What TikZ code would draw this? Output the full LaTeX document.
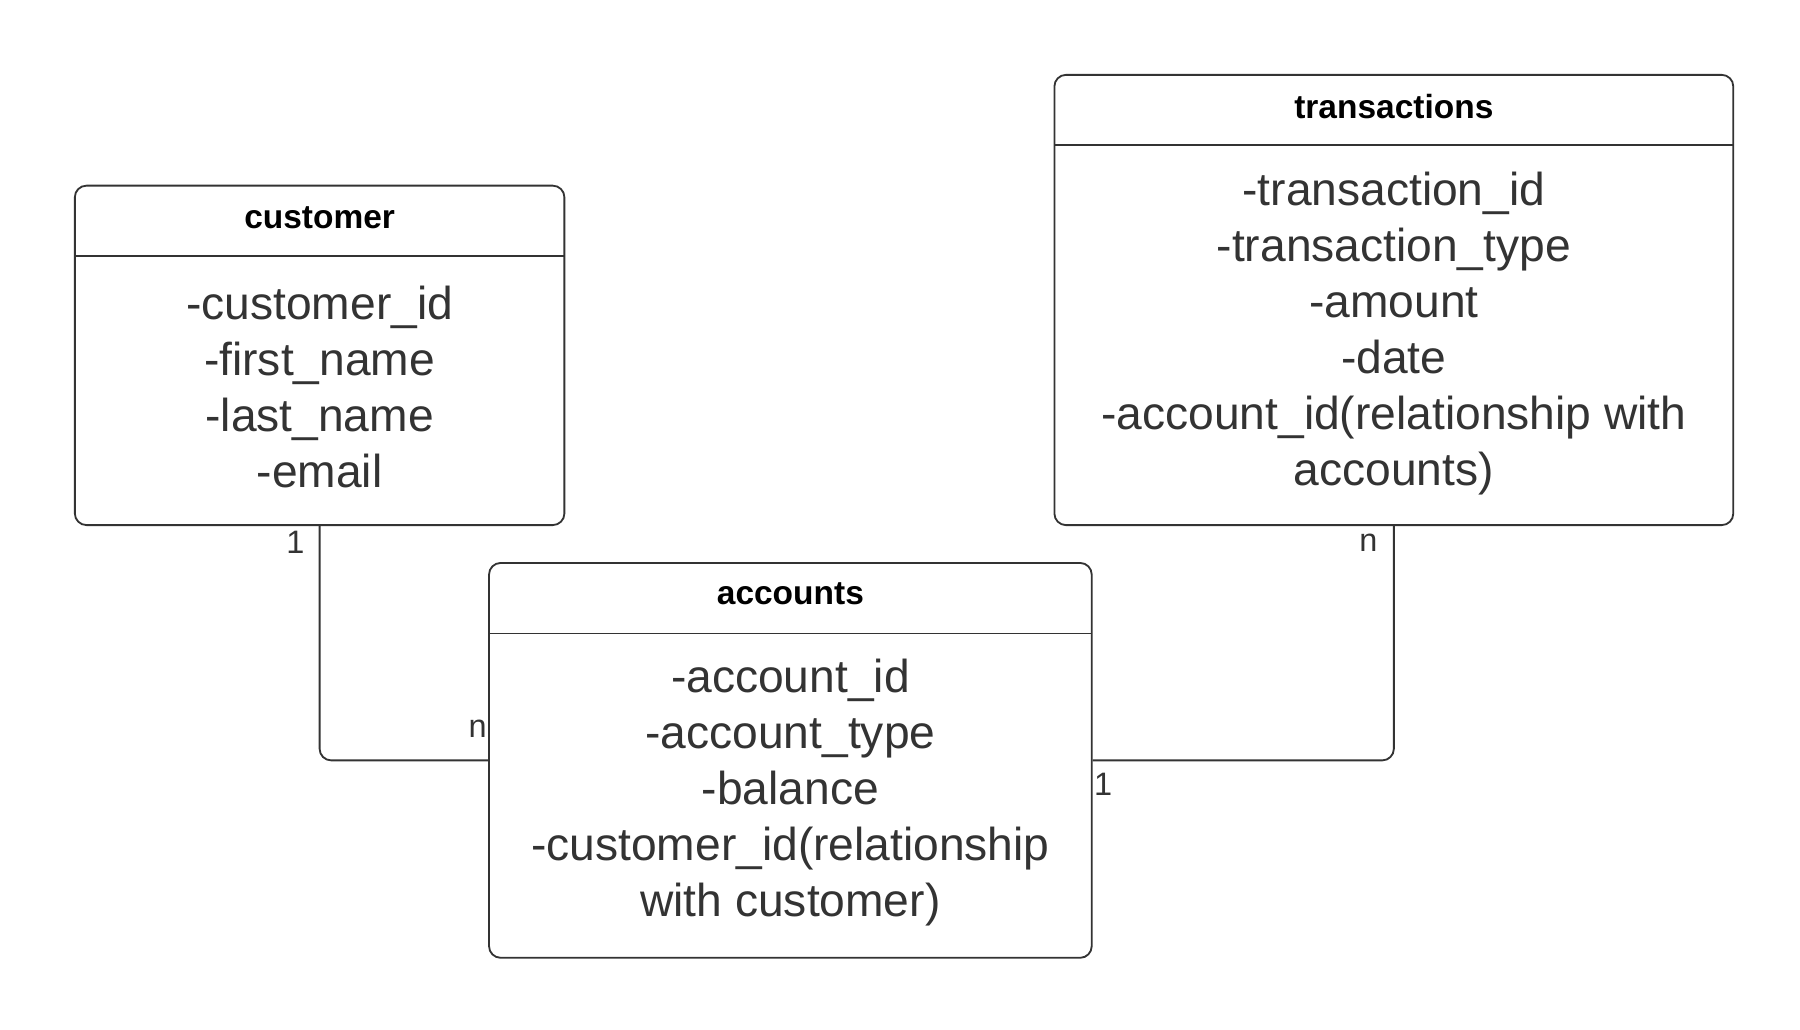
\documentclass[tikz,border=0pt]{standalone}
\usepackage{fontspec}
\setmainfont{Liberation Sans}
\definecolor{ln}{HTML}{333333}
\definecolor{tx}{HTML}{333333}
\tikzset{
  tbl/.style={draw=ln, line width=0.45pt, rounded corners=0.1cm, inner sep=0pt, fill=white},
  ttl/.style={font=\fontsize{8.25}{10}\selectfont\bfseries, text=black, inner sep=0pt},
  body/.style={font=\fontsize{11.38}{13.8}\selectfont, text=tx, align=center, inner sep=0pt},
  card/.style={font=\fontsize{8}{9.6}\selectfont, text=tx, inner sep=0pt},
  conn/.style={draw=ln, line width=0.45pt, rounded corners=0.1cm},
  hdr/.style={draw=ln, line width=0.45pt}
}
\begin{document}
\begin{tikzpicture}[x=0.01cm, y=-0.01cm]
\useasboundingbox (0,0) rectangle (1560,892);
% tables
\node[tbl, minimum width=4.24cm, minimum height=2.94cm] (cust) at (277,308) {};
\node[tbl, minimum width=5.88cm, minimum height=3.90cm] (trans) at (1208,260) {};
\node[tbl, minimum width=5.22cm, minimum height=3.42cm] (acc) at (685,659) {};
% header separators
\coordinate (custhl) at (65,222);
\coordinate (custhr) at (489,222);
\draw[hdr] (custhl) -- (custhr);
\coordinate (transhl) at (914,126);
\coordinate (transhr) at (1502,126);
\draw[hdr] (transhl) -- (transhr);
\coordinate (acchl) at (424,549);
\coordinate (acchr) at (946,549);
\draw[hdr] (acchl) -- (acchr);
% titles
\node[ttl] (custt) at (277,189) {customer};
\node[ttl] (transt) at (1208,92) {transactions};
\node[ttl] (acct) at (685,515) {accounts};
% bodies
\node[body] (custb) at (277,335) {-customer\_id\\-first\_name\\-last\_name\\-email};
\node[body] (transb) at (1208,289) {-transaction\_id\\-transaction\_type\\-amount\\-date\\-account\_id(relationship with\\accounts)};
\node[body] (accb) at (685,687) {-account\_id\\-account\_type\\-balance\\-customer\_id(relationship\\with customer)};
% connectors
\draw[conn] (cust.south) |- (acc.west);
\draw[conn] (acc.east) -| (trans.south);
% cardinalities
\node[card] (c1) at (256,470) {1};
\node[card] (c2) at (414,632) {n};
\node[card] (c3) at (1186,470) {n};
\node[card] (c4) at (956,680) {1};
\end{tikzpicture}
\end{document}
